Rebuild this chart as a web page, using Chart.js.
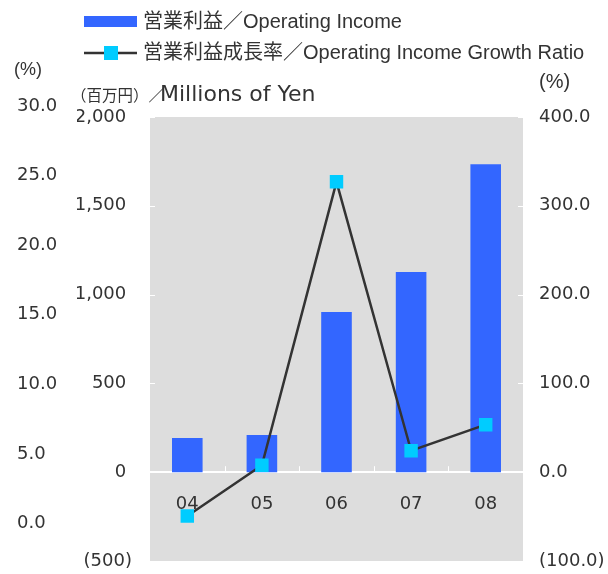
<!DOCTYPE html>
<html>
<head>
<meta charset="utf-8">
<script src="https://cdn.jsdelivr.net/npm/chart.js@4"></script>
<style>
  html, body { margin: 0; padding: 0; background: #fff; }
  canvas { display: block; }
</style>
</head>
<body>
<canvas id="incomeChart" width="608" height="574"></canvas>
<script>
"use strict";

const years = ["04", "05", "06", "07", "08"];
const operatingIncome = [193, 209, 902, 1127, 1734];
const incomeGrowth = [-49.3, 7.8, 327.0, 24.2, 53.5];

const ratioTicks = [0, 5, 10, 15, 20, 25, 30];
// the outer (%) scale does not line up with the grey box in the original
const ratioMin = -2.69;
const ratioMax = 29.21;

const legendLabels = [
  "営業利益／Operating Income",
  "営業利益成長率／Operating Income Growth Ratio",
];

const ctx = document.getElementById("incomeChart");

Chart.defaults.font.family = "'DejaVu Sans', sans-serif";
Chart.defaults.font.size = 18;
Chart.defaults.color = "#333333";

// fixed axis widths, and no extra room for labels sticking out top/bottom
const fixWidth = (w) => (scale) => {
  scale.width = w;
  scale.paddingTop = 0;
  scale.paddingBottom = 0;
};

const yenLabel = (v) =>
  v < 0 ? "(" + Math.abs(v).toLocaleString("en-US") + ")" : v.toLocaleString("en-US") + " ";
const pctLabel = (v) => (v < 0 ? "(" + Math.abs(v).toFixed(1) + ")" : v.toFixed(1));

// grey plot box + the little white tick marks
const plotBox = {
  id: "plotBox",
  beforeDraw(chart) {
    const { ctx, chartArea: a } = chart;
    ctx.save();
    ctx.fillStyle = "#dddddd";
    ctx.fillRect(a.left, a.top, a.right - a.left, a.bottom - a.top);
    ctx.restore();
  },
  beforeDatasetsDraw(chart) {
    const { ctx, chartArea: a, scales } = chart;
    ctx.save();
    ctx.strokeStyle = "#ffffff";
    ctx.lineWidth = 1;
    ctx.beginPath();
    scales.y.ticks.forEach((t) => {
      const py = Math.round(scales.y.getPixelForValue(t.value)) + 0.5;
      ctx.moveTo(a.left, py);
      ctx.lineTo(a.left + 5, py);
      ctx.moveTo(a.right - 5, py);
      ctx.lineTo(a.right, py);
    });
    const zero = scales.y.getPixelForValue(0);
    for (let i = 0; i < years.length - 1; i++) {
      const px = Math.round((scales.x.getPixelForValue(i) + scales.x.getPixelForValue(i + 1)) / 2) + 0.5;
      ctx.moveTo(px, zero - 6);
      ctx.lineTo(px, zero);
    }
    ctx.stroke();
    ctx.restore();
  },
};

// legend and unit captions
const captions = {
  id: "captions",
  afterDraw(chart) {
    const { ctx } = chart;
    const bar = chart.data.datasets[0];
    const line = chart.data.datasets[1];
    ctx.save();
    ctx.fillStyle = bar.backgroundColor;
    ctx.fillRect(84, 16, 53, 11);
    ctx.strokeStyle = line.borderColor;
    ctx.lineWidth = 2.5;
    ctx.beginPath();
    ctx.moveTo(84, 53);
    ctx.lineTo(137, 53);
    ctx.stroke();
    ctx.fillStyle = line.pointBackgroundColor;
    ctx.fillRect(104, 46, 14, 14);

    ctx.fillStyle = "#333333";
    ctx.textBaseline = "middle";
    ctx.font = "20px 'Liberation Sans', 'Noto Sans CJK JP', sans-serif";
    ctx.fillText(legendLabels[0], 143, 22);
    ctx.fillText(legendLabels[1], 143, 53);

    ctx.font = "18px 'Liberation Sans', sans-serif";
    ctx.fillText("(%)", 14, 70);
    ctx.font = "20px 'Liberation Sans', sans-serif";
    ctx.fillText("(%)", 539, 82);

    ctx.font = "15.5px 'Noto Sans CJK JP', sans-serif";
    ctx.fillText("（百万円）／", 71, 95);
    ctx.font = "22px 'DejaVu Sans', sans-serif";
    ctx.fillText("Millions of Yen", 160, 95);
    ctx.restore();
  },
};

const myChart = new Chart(ctx, {
  type: "bar",
  data: {
    labels: years,
    datasets: [
      {
        label: legendLabels[0],
        data: operatingIncome,
        backgroundColor: "#3366ff",
        yAxisID: "y",
        barPercentage: 0.41,
        categoryPercentage: 1,
        order: 2,
      },
      {
        type: "line",
        label: legendLabels[1],
        data: incomeGrowth,
        yAxisID: "y1",
        borderColor: "#333333",
        borderWidth: 2.5,
        pointStyle: "rect",
        pointRadius: 9.5,
        pointBorderWidth: 0,
        pointBackgroundColor: "#00ccff",
        pointBorderColor: "#00ccff",
        tension: 0,
        order: 1,
      },
    ],
  },
  options: {
    responsive: false,
    animation: false,
    devicePixelRatio: 1,
    layout: {
      padding: { left: 17, top: 117, right: 0, bottom: 13 },
    },
    plugins: {
      legend: { display: false },
      tooltip: { enabled: false },
    },
    scales: {
      x: {
        position: { y: 0 },
        afterFit: (scale) => {
          scale.height = 0;
        },
        grid: { display: false, drawTicks: false },
        border: { display: true, color: "#ffffff", width: 2 },
        ticks: { padding: 21 },
      },
      y: {
        position: "left",
        weight: 0,
        min: -500,
        max: 2000,
        afterFit: fixWidth(73),
        grid: { display: false, drawTicks: false },
        border: { display: false },
        ticks: { stepSize: 500, padding: 18, callback: yenLabel },
      },
      ratio: {
        position: "left",
        weight: 1,
        min: ratioMin,
        max: ratioMax,
        afterFit: fixWidth(60),
        afterBuildTicks: (scale) => {
          scale.ticks = ratioTicks.map((v) => ({ value: v }));
        },
        grid: { display: false, drawTicks: false },
        border: { display: false },
        ticks: {
          crossAlign: "far",
          autoSkip: false,
          padding: 0,
          callback: (v) => Number(v).toFixed(1),
        },
      },
      y1: {
        position: "right",
        min: -100,
        max: 400,
        afterFit: fixWidth(85),
        grid: { display: false, drawTicks: false },
        border: { display: false },
        ticks: { stepSize: 100, padding: 16, callback: pctLabel },
      },
    },
  },
  plugins: [plotBox, captions],
});
</script>
</body>
</html>
